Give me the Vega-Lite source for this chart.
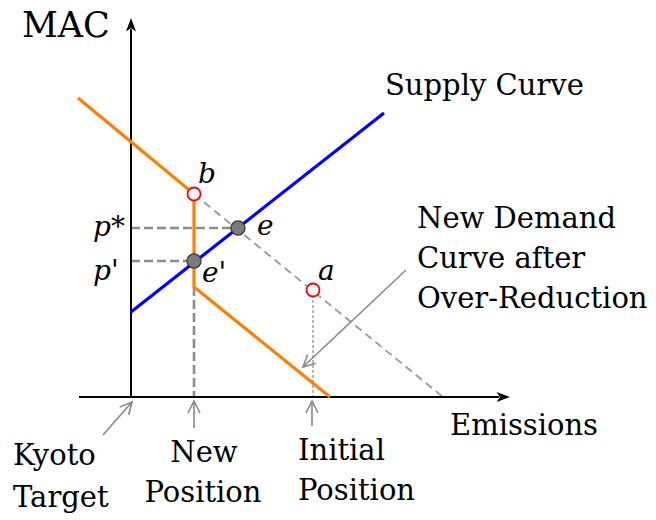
{
  "$schema": "https://vega.github.io/schema/vega-lite/v6.json",
  "width": 656,
  "height": 520,
  "padding": 0,
  "autosize": {"type": "fit", "contains": "padding"},
  "background": "white",
  "config": {"view": {"stroke": null}},
  "encoding": {
    "x": {"field": "x", "type": "quantitative", "axis": null, "scale": {"domain": [-13.1, 52.5], "nice": false, "zero": false}},
    "y": {"field": "y", "type": "quantitative", "axis": null, "scale": {"domain": [-12.3, 39.7], "nice": false, "zero": false}}
  },
  "layer": [
    {
      "data": {"values": [
        {"x": 6.3, "y": 20.3, "x2": 31.2, "y2": 0}
      ]},
      "mark": {"type": "rule", "color": "#999999", "strokeWidth": 1.8, "strokeDash": [8, 5]},
      "encoding": {"x2": {"field": "x2"}, "y2": {"field": "y2"}}
    },
    {
      "data": {"values": [
        {"x": 0, "y": 16.9, "x2": 10.7, "y2": 16.9},
        {"x": 0, "y": 13.6, "x2": 6.3, "y2": 13.6},
        {"x": 6.3, "y": 11.0, "x2": 6.3, "y2": 0}
      ]},
      "mark": {"type": "rule", "color": "#8c8c8c", "strokeWidth": 2.6, "strokeDash": [9, 4]},
      "encoding": {"x2": {"field": "x2"}, "y2": {"field": "y2"}}
    },
    {
      "data": {"values": [
        {"x": 18.2, "y": 10.7, "x2": 18.2, "y2": 0}
      ]},
      "mark": {"type": "rule", "color": "#999999", "strokeWidth": 1.4, "strokeDash": [3, 2]},
      "encoding": {"x2": {"field": "x2"}, "y2": {"field": "y2"}}
    },
    {
      "data": {"values": [
        {"x": 0, "y": 0, "x2": 0, "y2": 36.8},
        {"x": -5.2, "y": 0, "x2": 36.8, "y2": 0}
      ]},
      "mark": {"type": "rule", "color": "black", "strokeWidth": 2},
      "encoding": {"x2": {"field": "x2"}, "y2": {"field": "y2"}}
    },
    {
      "data": {"values": [
        {"x": 0, "y": 37.9, "dir": "up"}
      ]},
      "mark": {"type": "point", "shape": "M0,0 L0.5,1.35 L0,1 L-0.5,1.35 Z", "size": 400, "filled": true, "color": "black", "opacity": 1, "angle": 0}
    },
    {
      "data": {"values": [
        {"x": 37.9, "y": 0, "dir": "right"}
      ]},
      "mark": {"type": "point", "shape": "M0,0 L0.5,1.35 L0,1 L-0.5,1.35 Z", "size": 400, "filled": true, "color": "black", "opacity": 1, "angle": 90}
    },
    {
      "data": {"values": [
        {"x": 0, "y": 8.5, "x2": 25.3, "y2": 28.4}
      ]},
      "mark": {"type": "rule", "color": "#0000ff", "strokeWidth": 3.2},
      "encoding": {"x2": {"field": "x2"}, "y2": {"field": "y2"}}
    },
    {
      "data": {"values": [
        {"x": -5.3, "y": 29.9, "o": 1},
        {"x": 6.3, "y": 20.3, "o": 2},
        {"x": 6.3, "y": 11.0, "o": 3},
        {"x": 19.9, "y": 0, "o": 4}
      ]},
      "mark": {"type": "line", "color": "#ff8000", "strokeWidth": 3.2, "strokeJoin": "miter"},
      "encoding": {"order": {"field": "o", "type": "quantitative"}}
    },
    {
      "data": {"values": [
        {"x": -2.8, "y": -3.8, "x2": 0.1, "y2": -0.5},
        {"x": 6.3, "y": -3.1, "x2": 6.3, "y2": -0.4},
        {"x": 18.1, "y": -2.9, "x2": 18.1, "y2": -0.4},
        {"x": 27.5, "y": 12.7, "x2": 17.2, "y2": 3.0}
      ]},
      "mark": {"type": "rule", "color": "#888888", "strokeWidth": 1.6},
      "encoding": {"x2": {"field": "x2"}, "y2": {"field": "y2"}}
    },
    {
      "data": {"values": [
        {"x": 6.3, "y": -0.4},
        {"x": 18.1, "y": -0.4}
      ]},
      "mark": {"type": "point", "shape": "M-0.5,1 L0,0 L0.5,1", "size": 576, "filled": false, "color": "#888888", "strokeWidth": 1.6, "opacity": 1, "angle": 0}
    },
    {
      "data": {"values": [
        {"x": 0.1, "y": -0.5}
      ]},
      "mark": {"type": "point", "shape": "M-0.5,1 L0,0 L0.5,1", "size": 576, "filled": false, "color": "#888888", "strokeWidth": 1.6, "opacity": 1, "angle": 41}
    },
    {
      "data": {"values": [
        {"x": 17.2, "y": 3.0}
      ]},
      "mark": {"type": "point", "shape": "M-0.5,1 L0,0 L0.5,1", "size": 576, "filled": false, "color": "#888888", "strokeWidth": 1.6, "opacity": 1, "angle": 227}
    },
    {
      "data": {"values": [
        {"x": 6.3, "y": 20.3, "name": "b"},
        {"x": 18.2, "y": 10.7, "name": "a"}
      ]},
      "mark": {"type": "point", "shape": "circle", "size": 169, "filled": true, "fill": "white", "stroke": "#ff0000", "strokeWidth": 1.8, "opacity": 1}
    },
    {
      "data": {"values": [
        {"x": 10.7, "y": 16.9, "name": "e"},
        {"x": 6.3, "y": 13.6, "name": "e'"}
      ]},
      "mark": {"type": "point", "shape": "circle", "size": 200, "filled": true, "fill": "#7a7a7a", "stroke": "#333333", "strokeWidth": 1.2, "opacity": 1}
    },
    {
      "data": {"values": [
        {"x": -10.9, "y": 36.0, "label": "MAC"}
      ]},
      "mark": {"type": "text", "font": "DejaVu Serif", "fontSize": 35, "align": "left", "baseline": "alphabetic", "color": "black"},
      "encoding": {"text": {"field": "label"}}
    },
    {
      "data": {"values": [
        {"x": 25.4, "y": 30.2, "label": "Supply Curve"},
        {"x": 28.6, "y": 16.9, "label": "New Demand"},
        {"x": 28.6, "y": 12.9, "label": "Curve after"},
        {"x": 28.6, "y": 8.9, "label": "Over-Reduction"},
        {"x": 31.9, "y": -3.8, "label": "Emissions"},
        {"x": -11.8, "y": -6.8, "label": "Kyoto"},
        {"x": -11.8, "y": -11.0, "label": "Target"},
        {"x": 16.7, "y": -6.3, "label": "Initial"},
        {"x": 16.7, "y": -10.3, "label": "Position"}
      ]},
      "mark": {"type": "text", "font": "DejaVu Serif", "fontSize": 29, "align": "left", "baseline": "alphabetic", "color": "black"},
      "encoding": {"text": {"field": "label"}}
    },
    {
      "data": {"values": [
        {"x": 7.3, "y": -6.5, "label": "New"},
        {"x": 7.2, "y": -10.5, "label": "Position"}
      ]},
      "mark": {"type": "text", "font": "DejaVu Serif", "fontSize": 29, "align": "center", "baseline": "alphabetic", "color": "black"},
      "encoding": {"text": {"field": "label"}}
    },
    {
      "data": {"values": [
        {"x": 6.7, "y": 21.4, "label": "b"},
        {"x": 12.6, "y": 16.2, "label": "e"},
        {"x": 7.1, "y": 11.5, "label": "e'"},
        {"x": -3.8, "y": 16.1, "label": "p*"},
        {"x": -3.8, "y": 11.7, "label": "p'"},
        {"x": 18.7, "y": 11.7, "label": "a"}
      ]},
      "mark": {"type": "text", "font": "DejaVu Serif", "fontStyle": "italic", "fontSize": 28, "align": "left", "baseline": "alphabetic", "color": "black"},
      "encoding": {"text": {"field": "label"}}
    }
  ]
}
